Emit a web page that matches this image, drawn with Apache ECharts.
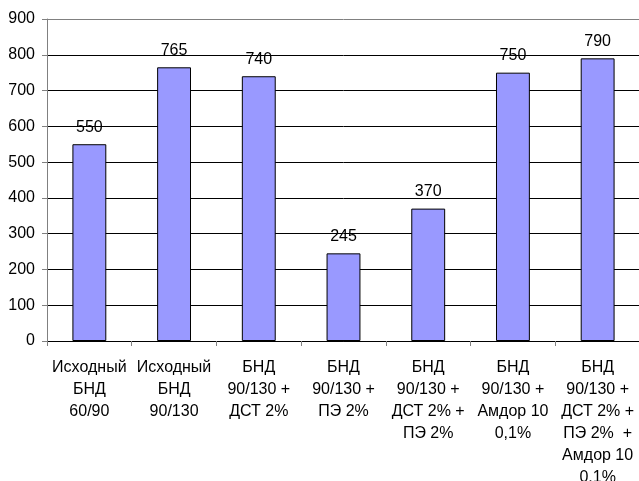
<!DOCTYPE html>
<html>
<head>
<meta charset="utf-8">
<script src="https://cdn.jsdelivr.net/npm/echarts@6/dist/echarts.min.js"></script>
<style>
  html, body { margin: 0; padding: 0; background: #fff; }
  #chart { width: 639px; height: 481px; }
</style>
</head>
<body>
<div id="chart"></div>
<script>
// Binder variants (multi-line category labels)
const categories = [
  'Исходный\nБНД\n60/90',
  'Исходный\nБНД\n90/130',
  'БНД\n90/130 +\nДСТ 2%',
  'БНД\n90/130 +\nПЭ 2%',
  'БНД\n90/130 +\nДСТ 2% +\nПЭ 2%',
  'БНД\n90/130 +\nАмдор 10\n0,1%',
  'БНД\n90/130 +\nДСТ 2% +\nПЭ 2%  +\nАмдор 10\n0,1%'
];
const values = [550, 765, 740, 245, 370, 750, 790];
const yTicks = { min: 0, max: 900, interval: 100 };

// split line colours: inner lines black, top border grey
const splitColors = [];
for (let v = yTicks.min; v <= yTicks.max; v += yTicks.interval) {
  splitColors.push(v === yTicks.max ? '#808080' : '#000000');
}

const FONT = 'Liberation Sans, Arial, sans-serif';
const chart = echarts.init(document.getElementById('chart'), null, { renderer: 'canvas' });
chart.setOption({
  animation: false,
  backgroundColor: '#ffffff',
  grid: {
    left: 47, right: -1, top: 19, bottom: 140,
    containLabel: false, outerBoundsMode: 'none'
  },
  xAxis: {
    type: 'category',
    data: categories,
    axisLine: { show: true, lineStyle: { color: '#000', width: 1 } },
    axisTick: { show: true, alignWithLabel: false, length: 5, inside: false, lineStyle: { color: '#808080' } },
    axisLabel: {
      interval: 0, color: '#000', fontFamily: FONT, fontSize: 16,
      lineHeight: 22, margin: 16
    },
    splitLine: { show: false }
  },
  yAxis: {
    type: 'value',
    min: yTicks.min, max: yTicks.max, interval: yTicks.interval,
    axisLine: { show: true, lineStyle: { color: '#808080', width: 1 } },
    axisTick: { show: true, length: 5, lineStyle: { color: '#808080' } },
    axisLabel: { color: '#000', fontFamily: FONT, fontSize: 16, margin: 12 },
    splitLine: { show: true, lineStyle: { color: splitColors, width: 1 } }
  },
  series: [{
    type: 'bar',
    data: values,
    barWidth: '40%',
    itemStyle: { color: '#9999FF', borderColor: '#000', borderWidth: 1 },
    label: {
      show: true, position: 'top', distance: 9,
      color: '#000', fontFamily: FONT, fontSize: 16
    }
  }]
});
</script>
</body>
</html>
